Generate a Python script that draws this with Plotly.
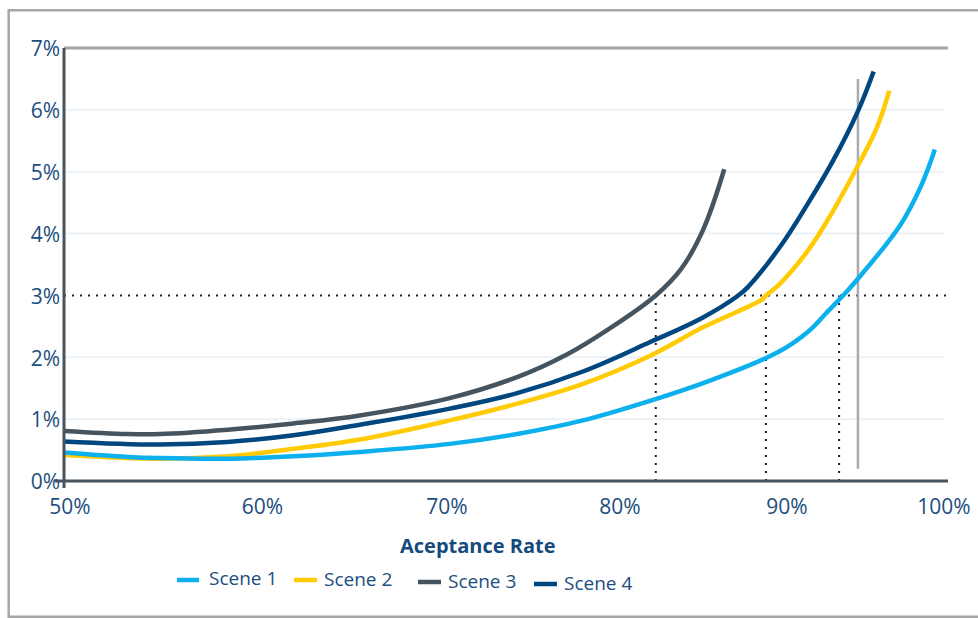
import numpy as np
import plotly.graph_objects as go

# ---- data -------------------------------------------------------------
TICK_RATES = [50, 60, 70, 80, 90, 100]
TICK_LABELS = ["50%", "60%", "70%", "80%", "90%", "100%"]
Y_TICKS = [0, 1, 2, 3, 4, 5, 6, 7]
Y_LABELS = ["0%", "1%", "2%", "3%", "4%", "5%", "6%", "7%"]

SCENES = ["Scene 1", "Scene 2", "Scene 3", "Scene 4"]

scene1_rate = [50.0, 53.3, 55.0, 58.5, 62.0, 65.6, 70.5, 74.4, 78.2, 82.2, 85.7,
               89.8, 91.7, 92.9, 94.1, 94.9, 97.6, 98.9, 99.8]
scene1_val = [0.46, 0.39, 0.37, 0.36, 0.40, 0.47, 0.60, 0.76, 0.98, 1.30, 1.62,
              2.08, 2.41, 2.72, 3.04, 3.27, 4.14, 4.76, 5.36]

scene2_rate = [50.0, 55.0, 58.5, 62.0, 65.6, 70.5, 74.4, 78.2, 82.2, 85.3, 88.9,
               89.1, 89.9, 91.7, 93.3, 94.9, 96.1, 96.9]
scene2_val = [0.42, 0.36, 0.40, 0.52, 0.67, 0.98, 1.25, 1.57, 2.03, 2.48, 2.94,
              3.00, 3.18, 3.72, 4.36, 5.10, 5.71, 6.31]

scene3_rate = [50.0, 53.3, 55.0, 58.5, 62.0, 65.6, 70.5, 74.4, 77.3, 79.6, 82.5,
               84.0, 85.3, 86.6]
scene3_val = [0.81, 0.76, 0.76, 0.83, 0.93, 1.06, 1.34, 1.68, 2.05, 2.44, 3.00,
              3.42, 4.04, 5.04]

scene4_rate = [50.0, 55.0, 58.5, 62.0, 65.6, 70.5, 74.4, 78.2, 82.2, 85.3, 87.4,
               88.0, 89.9, 91.7, 93.3, 94.9, 95.9]
scene4_val = [0.64, 0.59, 0.63, 0.74, 0.91, 1.17, 1.42, 1.77, 2.25, 2.64, 2.99,
              3.13, 3.77, 4.48, 5.17, 5.98, 6.62]

THRESHOLD = 3.0                      # default-rate limit
CROSS_RATES = [82.5, 89.1, 93.7]     # acceptance rates where scenes 3, 2, 1 reach the limit
MARKER_RATE = 94.9                   # current acceptance rate
MARKER_SPAN = [0.2, 6.5]

# ---- styles ------------------------------------------------------------
COLORS = {"Scene 1": "#0cb0ec", "Scene 2": "#ffcb05",
          "Scene 3": "#46545f", "Scene 4": "#00477f"}
TEXT_BLUE = "#1b4e7e"
FONT = "Open Sans"

# plot-area frame in pixels
PLOT_L, PLOT_R, PLOT_T, PLOT_B = 64, 948, 48, 481

# the horizontal scale is stretched unevenly: fraction of the axis length
# at which each tick rate sits
AXIS_FRAC = [0.0, 0.2178, 0.4265, 0.6222, 0.8111, 0.9887]


def to_axis(rate):
    return np.interp(rate, TICK_RATES, AXIS_FRAC)


def px_x(px):
    return (px - PLOT_L) / (PLOT_R - PLOT_L)


def px_y(py):
    return (PLOT_B - py) / (PLOT_B - PLOT_T)


series = {
    "Scene 1": (scene1_rate, scene1_val),
    "Scene 2": (scene2_rate, scene2_val),
    "Scene 3": (scene3_rate, scene3_val),
    "Scene 4": (scene4_rate, scene4_val),
}

fig = go.Figure()
for name in ["Scene 2", "Scene 1", "Scene 3", "Scene 4"]:
    rates, vals = series[name]
    fig.add_trace(go.Scatter(
        x=to_axis(rates), y=vals, mode="lines", name=name,
        line=dict(color=COLORS[name], width=4.5, shape="spline", smoothing=1.1),
        showlegend=False, hoverinfo="skip",
    ))

shapes = []
# light gridlines
for v in Y_TICKS:
    if v in (0, THRESHOLD, 7):
        continue
    shapes.append(dict(type="line", xref="paper", yref="y", x0=0, x1=px_x(945),
                       y0=v, y1=v, line=dict(color="#edf1f5", width=2), layer="below"))
# threshold line and drop lines
shapes.append(dict(type="line", xref="paper", yref="y", x0=0, x1=1,
                   y0=THRESHOLD, y1=THRESHOLD,
                   line=dict(color="#222222", width=2, dash="2px,6px"), layer="between"))
for r in CROSS_RATES:
    xv = float(to_axis(r))
    shapes.append(dict(type="line", xref="x", yref="y", x0=xv, x1=xv,
                       y0=0, y1=THRESHOLD,
                       line=dict(color="#222222", width=2, dash="2px,6px"), layer="between"))
# current-rate marker
xm = float(to_axis(MARKER_RATE))
shapes.append(dict(type="line", xref="x", yref="y", x0=xm, x1=xm,
                   y0=MARKER_SPAN[0], y1=MARKER_SPAN[1],
                   line=dict(color="#a9abae", width=2.5), layer="between"))
# axis lines
shapes.append(dict(type="line", xref="paper", yref="paper", x0=0, x1=1, y0=1, y1=1,
                   line=dict(color="#a0a3a6", width=3)))
shapes.append(dict(type="line", xref="paper", yref="paper", x0=0, x1=0,
                   y0=px_y(488), y1=1, line=dict(color="#46545f", width=3)))
shapes.append(dict(type="line", xref="paper", yref="paper", x0=px_x(55), x1=1,
                   y0=0, y1=0, line=dict(color="#46545f", width=3)))
# outer frame
shapes.append(dict(type="rect", xref="paper", yref="paper",
                   x0=px_x(8.7), x1=px_x(990), y0=px_y(616.7), y1=px_y(10.3),
                   line=dict(color="#a6a6a6", width=2.5), fillcolor="rgba(0,0,0,0)",
                   layer="below"))

annotations = [dict(
    text="<b>Aceptance Rate</b>", xref="paper", yref="paper",
    x=px_x(477.5), y=px_y(545), xanchor="center", yanchor="middle",
    showarrow=False, font=dict(family=FONT, size=20, color="#154a7c"),
)]

# legend row: swatch start/end, swatch y, text x, text y (pixels)
legend_layout = [
    (177, 199, 580, 207, 578),
    (294, 317, 580, 322, 578.5),
    (418, 441, 582, 446, 581),
    (534, 557, 584, 562, 583),
]
for name, (sx0, sx1, sy, tx, ty) in zip(SCENES, legend_layout):
    shapes.append(dict(type="line", xref="paper", yref="paper",
                       x0=px_x(sx0), x1=px_x(sx1), y0=px_y(sy), y1=px_y(sy),
                       line=dict(color=COLORS[name], width=4.5)))
    annotations.append(dict(
        text=name, xref="paper", yref="paper", x=px_x(tx), y=px_y(ty),
        xanchor="left", yanchor="middle", showarrow=False,
        font=dict(family=FONT, size=19, color=TEXT_BLUE),
    ))

fig.update_layout(
    width=978, height=618, autosize=False,
    margin=dict(l=PLOT_L, r=978 - PLOT_R, t=PLOT_T, b=618 - PLOT_B, pad=0),
    paper_bgcolor="white", plot_bgcolor="white",
    shapes=shapes, annotations=annotations, showlegend=False,
    font=dict(family=FONT, color=TEXT_BLUE),
)
fig.update_xaxes(
    range=[0, 1], tickvals=list(to_axis(TICK_RATES)), ticktext=TICK_LABELS,
    showgrid=False, zeroline=False, showline=False, ticks="", automargin=False,
    ticklabelshift=6, ticklabelstandoff=11,
    tickfont=dict(family=FONT, size=21, color=TEXT_BLUE), fixedrange=True,
)
fig.update_yaxes(
    range=[0, 7], tickvals=Y_TICKS, ticktext=Y_LABELS,
    showgrid=False, zeroline=False, showline=False, ticks="", automargin=False,
    ticklabelshift=1, ticklabelstandoff=3,
    tickfont=dict(family=FONT, size=21, color=TEXT_BLUE), fixedrange=True,
)

fig.write_html("out.html")
